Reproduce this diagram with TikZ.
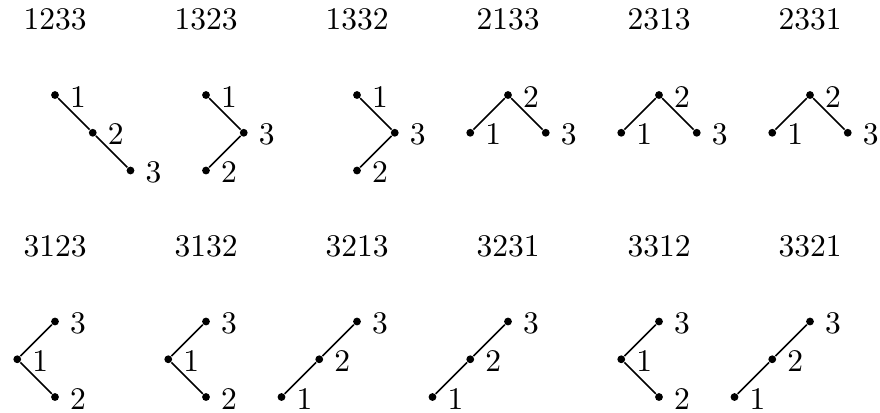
\documentclass[tikz,border=0pt]{standalone}
\begin{document}
\begin{tikzpicture}[x=12.583pt,y=-12.583pt,
  font=\fontsize{10.5pt}{12pt}\selectfont,
  dot/.style={circle,fill=black,inner sep=0pt,minimum size=2.6pt},
  lbl/.style={inner sep=0pt,label distance=3.3pt},
  edge/.style={line width=0.5pt},
  ttl/.style={inner sep=0pt}]
\useasboundingbox (-1.457,-2.517) rectangle (21.854,8.397);
% ---------- row 1 ----------
% 1233
\node[ttl] (t1) at (0,-2.0) {1233};
\node[dot,label={[lbl,yshift=-0.5pt]right:1}] (a1) at (0,0) {};
\node[dot,label={[lbl,yshift=-0.5pt]right:2}] (a2) at (1,1) {};
\node[dot,label={[lbl,yshift=-0.5pt]right:3}] (a3) at (2,2) {};
\draw[edge] (a1) -- (a2) -- (a3);
% 1323
\node[ttl] (t2) at (4,-2.0) {1323};
\node[dot,label={[lbl,yshift=-0.5pt]right:1}] (b1) at (4,0) {};
\node[dot,label={[lbl,yshift=-0.5pt]right:3}] (b3) at (5,1) {};
\node[dot,label={[lbl,yshift=-0.5pt]right:2}] (b2) at (4,2) {};
\draw[edge] (b1) -- (b3) -- (b2);
% 1332
\node[ttl] (t3) at (8,-2.0) {1332};
\node[dot,label={[lbl,yshift=-0.5pt]right:1}] (c1) at (8,0) {};
\node[dot,label={[lbl,yshift=-0.5pt]right:3}] (c3) at (9,1) {};
\node[dot,label={[lbl,yshift=-0.5pt]right:2}] (c2) at (8,2) {};
\draw[edge] (c1) -- (c3) -- (c2);
% 2133
\node[ttl] (t4) at (12,-2.0) {2133};
\node[dot,label={[lbl,yshift=-0.5pt]right:2}] (d2) at (12,0) {};
\node[dot,label={[lbl,yshift=-0.5pt]right:1}] (d1) at (11,1) {};
\node[dot,label={[lbl,yshift=-0.5pt]right:3}] (d3) at (13,1) {};
\draw[edge] (d1) -- (d2) -- (d3);
% 2313
\node[ttl] (t5) at (16,-2.0) {2313};
\node[dot,label={[lbl,yshift=-0.5pt]right:2}] (e2) at (16,0) {};
\node[dot,label={[lbl,yshift=-0.5pt]right:1}] (e1) at (15,1) {};
\node[dot,label={[lbl,yshift=-0.5pt]right:3}] (e3) at (17,1) {};
\draw[edge] (e1) -- (e2) -- (e3);
% 2331
\node[ttl] (t6) at (20,-2.0) {2331};
\node[dot,label={[lbl,yshift=-0.5pt]right:2}] (f2) at (20,0) {};
\node[dot,label={[lbl,yshift=-0.5pt]right:1}] (f1) at (19,1) {};
\node[dot,label={[lbl,yshift=-0.5pt]right:3}] (f3) at (21,1) {};
\draw[edge] (f1) -- (f2) -- (f3);
% ---------- row 2 ----------
% 3123
\node[ttl] (t7) at (0,4.0) {3123};
\node[dot,label={[lbl,yshift=-0.5pt]right:1}] (g1) at (-1,7) {};
\node[dot,label={[lbl,yshift=-0.5pt]right:3}] (g3) at (0,6) {};
\node[dot,label={[lbl,yshift=-0.5pt]right:2}] (g2) at (0,8) {};
\draw[edge] (g3) -- (g1) -- (g2);
% 3132
\node[ttl] (t8) at (4,4.0) {3132};
\node[dot,label={[lbl,yshift=-0.5pt]right:1}] (h1) at (3,7) {};
\node[dot,label={[lbl,yshift=-0.5pt]right:3}] (h3) at (4,6) {};
\node[dot,label={[lbl,yshift=-0.5pt]right:2}] (h2) at (4,8) {};
\draw[edge] (h3) -- (h1) -- (h2);
% 3213
\node[ttl] (t9) at (8,4.0) {3213};
\node[dot,label={[lbl,yshift=-0.5pt]right:1}] (i1) at (6,8) {};
\node[dot,label={[lbl,yshift=-0.5pt]right:2}] (i2) at (7,7) {};
\node[dot,label={[lbl,yshift=-0.5pt]right:3}] (i3) at (8,6) {};
\draw[edge] (i1) -- (i2) -- (i3);
% 3231
\node[ttl] (t10) at (12,4.0) {3231};
\node[dot,label={[lbl,yshift=-0.5pt]right:1}] (j1) at (10,8) {};
\node[dot,label={[lbl,yshift=-0.5pt]right:2}] (j2) at (11,7) {};
\node[dot,label={[lbl,yshift=-0.5pt]right:3}] (j3) at (12,6) {};
\draw[edge] (j1) -- (j2) -- (j3);
% 3312
\node[ttl] (t11) at (16,4.0) {3312};
\node[dot,label={[lbl,yshift=-0.5pt]right:1}] (k1) at (15,7) {};
\node[dot,label={[lbl,yshift=-0.5pt]right:3}] (k3) at (16,6) {};
\node[dot,label={[lbl,yshift=-0.5pt]right:2}] (k2) at (16,8) {};
\draw[edge] (k3) -- (k1) -- (k2);
% 3321
\node[ttl] (t12) at (20,4.0) {3321};
\node[dot,label={[lbl,yshift=-0.5pt]right:1}] (l1) at (18,8) {};
\node[dot,label={[lbl,yshift=-0.5pt]right:2}] (l2) at (19,7) {};
\node[dot,label={[lbl,yshift=-0.5pt]right:3}] (l3) at (20,6) {};
\draw[edge] (l1) -- (l2) -- (l3);
\end{tikzpicture}
\end{document}
